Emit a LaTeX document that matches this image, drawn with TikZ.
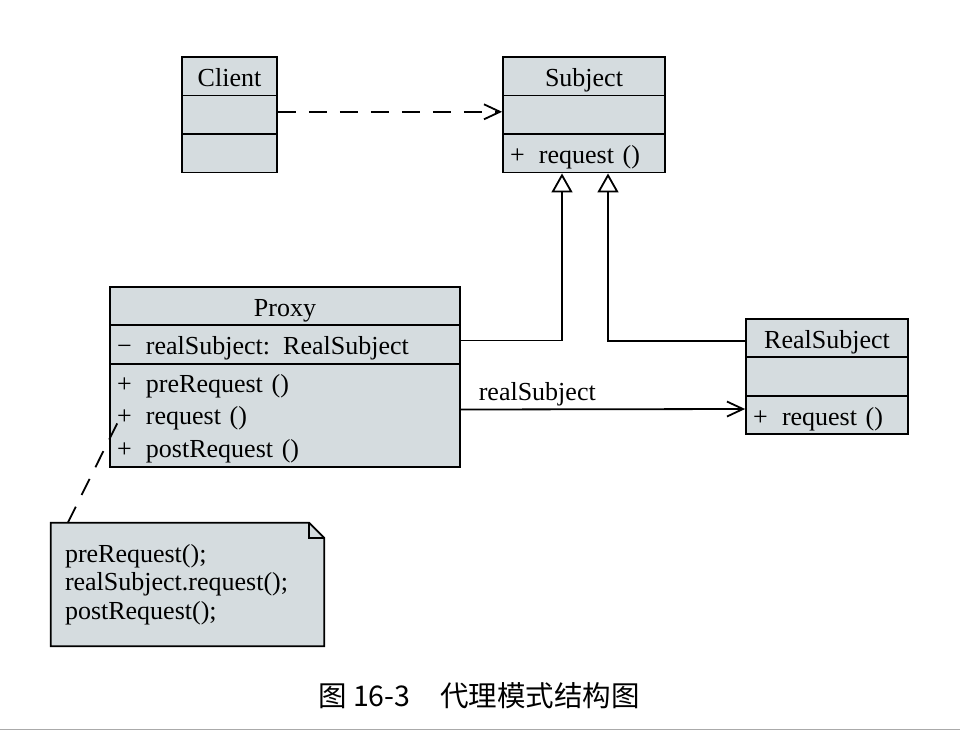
\documentclass[tikz,border=0pt]{standalone}
\usepackage{fontspec}
\setmainfont{Liberation Serif}
\newfontfamily\cjk{Noto Sans CJK SC}
\usepackage{tikz}
\usetikzlibrary{arrows.meta}

\definecolor{boxfill}{RGB}{213,220,223}
\definecolor{rulegray}{RGB}{170,170,170}
\newcommand{\umlvis}[1]{\makebox[29pt][l]{#1}}

\begin{document}
\begin{tikzpicture}[x=1pt, y=-1pt]
  \tikzset{BOX/.style={draw, fill=boxfill, line width=1.8pt, inner sep=0pt, minimum height=38.5pt, font=\fontsize{26}{32.5}\selectfont} }
  \tikzset{CLS/.style={BOX, text height=24pt, text depth=4pt} }
  \tikzset{OPS/.style={CLS, align=left, inner xsep=7pt} }
  \tikzset{MOPS/.style={BOX, align=left, inner xsep=7pt} }
  \tikzset{NOTE/.style={fill=boxfill, inner xsep=14pt, inner ysep=0pt, align=left, font=\fontsize{26}{28.5}\selectfont} }
  \tikzset{LNK/.style={line width=1.8pt} }
  \tikzset{DEP/.style={LNK, dash pattern=on 18pt off 13pt} }
  \useasboundingbox (0,0) rectangle (960,731);

  % Client
  \node[CLS, minimum width=95pt] (client)  at (229.5,76.3)  {Client};
  \node[CLS, minimum width=95pt] (client2) at (229.5,114.8) {};
  \node[CLS, minimum width=95pt] (client3) at (229.5,153.3) {};

  % Subject
  \node[CLS, minimum width=162pt] (subj)    at (584,76.3)  {Subject};
  \node[CLS, minimum width=162pt] (subjatt) at (584,114.8) {};
  \node[OPS, text width=148pt]    (subjops) at (584,153.3) {\umlvis{+}request ()};

  % Proxy
  \node[CLS, minimum width=350pt] (proxy)    at (285,306)   {Proxy};
  \node[OPS, text width=336pt]    (proxyatt) at (285,344.5) {\umlvis{−}realSubject: RealSubject};
  \node[MOPS, text width=336pt, minimum height=103pt] (proxyops) at (285,415.5)
    {\rule{0pt}{24pt}\umlvis{+}preRequest ()\\\umlvis{+}request ()\\\umlvis{+}postRequest ()};

  % RealSubject
  \node[CLS, minimum width=162pt] (rs)    at (827,338)   {RealSubject};
  \node[CLS, minimum width=162pt] (rsatt) at (827,376.5) {};
  \node[OPS, text width=148pt]    (rsops) at (827,415)   {\umlvis{+}request ()};

  % note
  \node[NOTE, minimum width=273pt, minimum height=123pt, text width=245pt] (note) at (187.5,584.5)
    {preRequest();\\realSubject.request();\\postRequest();};
  \fill[white] ([xshift=-15pt]note.north east) -- (note.north east) -- ([yshift=-15pt]note.north east) -- cycle;
  \draw[LNK] (note.north west) -- ([xshift=-15pt]note.north east) -- ([yshift=-15pt]note.north east)
    -- (note.south east) -- (note.south west) -- cycle;
  \draw[LNK] ([xshift=-15pt]note.north east) |- ([yshift=-15pt]note.north east);

  % links
  \draw[DEP, -{Straight Barb[length=16pt, width=15pt]}] ([yshift=3pt]client2.east) -- ([yshift=3pt]subjatt.west);
  \draw[LNK, -{Triangle[length=19pt, width=21pt, fill=white]}] ([yshift=4pt]proxyatt.east) -| ([xshift=-22pt]subjops.south);
  \draw[LNK, -{Triangle[length=19pt, width=21pt, fill=white]}] ([yshift=-3pt]rs.west) -| ([xshift=24pt]subjops.south);
  \draw[LNK, -{Straight Barb[length=16pt, width=15pt]}] ([yshift=6pt]proxyops.east) -- ([yshift=6pt]rsops.west)
    node[pos=0, anchor=south west, xshift=14pt, inner sep=3pt, font=\fontsize{26}{32}\selectfont] {realSubject};
  \draw[DEP] ([xshift=17pt]note.north west) -- ([xshift=12pt]proxyops.west);

  \node[font=\cjk\fontsize{28.5}{32}\selectfont] (caption) at (479,696) {图 16-3\hspace{30pt}代理模式结构图};
  \draw[rulegray, line width=1.5pt] (0,729.5) -- (960,729.5);
\end{tikzpicture}
\end{document}
